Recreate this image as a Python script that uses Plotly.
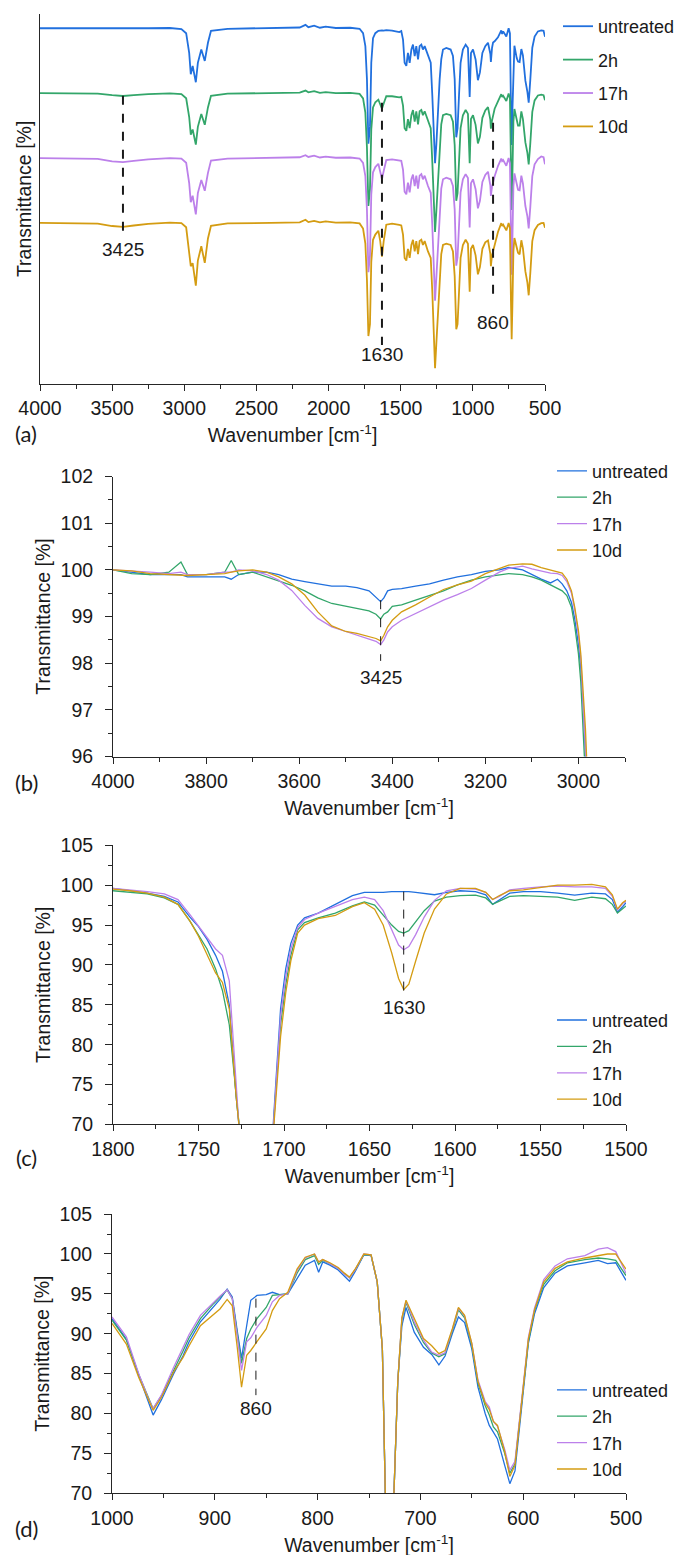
import plotly.graph_objects as go

W, H = 685, 1555
FONT = "Liberation Sans, Arial, sans-serif"
AXC = "#262626"
TXT = "#1a1a1a"

series_names = ["untreated", "2h", "17h", "10d"]
series_colors = ["#2170de", "#33a66a", "#bc80ea", "#d49c12"]

# ---------------- Panel (a): full spectra (transmittance %, stacked) ----------------
a_wn = [4000, 3700, 3600, 3500, 3425, 3350, 3250, 3100, 3020, 2987,
        2966, 2955, 2942, 2920, 2906, 2882, 2858, 2836, 2815, 2700,
        2400, 2200, 2160, 2140, 2100, 2060, 2020, 1950, 1850, 1785,
        1761, 1745, 1734, 1724, 1713, 1704, 1692, 1676, 1655, 1642,
        1630, 1618, 1600, 1560, 1510, 1496, 1484, 1473, 1461, 1450,
        1438, 1426, 1415, 1403, 1392, 1380, 1369, 1357, 1346, 1334,
        1311, 1292, 1281, 1272, 1262, 1253, 1242, 1230, 1219, 1207,
        1184, 1154, 1138, 1126, 1115, 1106, 1096, 1085, 1069, 1050,
        1034, 1022, 1013, 999, 981, 965, 951, 934, 914, 895,
        879, 875, 867, 860, 849, 826, 803, 797, 790, 768,
        752, 743, 736, 731, 726, 719, 712, 696, 687, 676,
        664, 653, 636, 622, 613, 602, 588, 572, 549, 526,
        510, 500]
a_untreated = [100.0, 99.9, 100.0, 99.9, 99.8, 99.9, 100.0, 100.1, 99.7, 98.1,
               90.5, 82.3, 85.5, 79.2, 86.7, 91.8, 87.4, 94.4, 99.0, 99.8,
               100.0, 100.3, 101.3, 100.4, 101.0, 100.2, 100.6, 100.1, 100.2, 99.8,
               98.1, 93.1, 80.4, 55.5, 62.0, 86.7, 96.2, 98.1, 99.0, 99.2,
               99.2, 99.1, 99.3, 99.1, 98.5, 98.9, 95.6, 86.7, 85.5, 90.5,
               86.7, 91.8, 93.7, 89.3, 93.1, 88.0, 93.1, 93.7, 91.8, 93.1,
               89.3, 86.7, 74.1, 57.7, 48.0, 55.2, 67.8, 80.4, 88.0, 91.8,
               92.4, 91.8, 89.3, 80.4, 58.0, 61.5, 74.1, 86.7, 91.8, 93.7,
               92.4, 73.5, 90.5, 91.8, 88.0, 80.0, 83.0, 90.5, 93.1, 94.4,
               90.2, 87.0, 92.5, 94.5, 95.0, 96.5, 99.2, 97.8, 98.8, 96.8,
               100.0, 98.0, 70.0, 55.0, 68.0, 88.0, 93.3, 88.5, 87.2, 87.0,
               92.0, 89.5, 79.8, 75.5, 71.3, 80.0, 92.5, 96.8, 98.8, 99.2,
               99.0, 96.7]
a_2h = [100.0, 99.9, 99.8, 99.2, 98.9, 99.2, 99.6, 99.9, 99.6, 98.0,
        90.8, 84.0, 86.0, 80.2, 87.0, 92.0, 87.8, 94.5, 99.0, 99.8,
        100.0, 100.2, 101.0, 100.3, 100.8, 100.1, 100.4, 100.0, 100.1, 99.7,
        98.0, 92.5, 79.0, 56.5, 63.0, 86.0, 94.5, 96.5, 97.5, 95.5,
        94.0, 96.0, 98.8, 98.8, 98.4, 98.6, 95.2, 86.5, 85.5, 90.0,
        86.5, 91.5, 93.5, 89.0, 93.0, 88.0, 93.0, 93.5, 91.5, 93.0,
        89.0, 86.5, 73.5, 56.5, 46.5, 54.5, 67.0, 80.0, 88.0, 91.5,
        92.0, 91.5, 89.0, 80.0, 58.5, 61.5, 74.0, 86.5, 91.5, 93.5,
        92.0, 73.0, 90.0, 91.5, 87.8, 80.6, 83.2, 90.5, 93.3, 94.6,
        89.8, 86.3, 89.5, 91.8, 94.0, 96.8, 99.6, 98.5, 99.0, 97.0,
        99.9, 98.0, 70.0, 55.0, 68.0, 89.0, 93.9, 89.2, 87.5, 87.5,
        93.0, 90.0, 81.0, 77.0, 72.5, 80.5, 92.8, 97.2, 99.1, 99.4,
        99.2, 97.3]
a_17h = [100.0, 99.9, 99.7, 98.7, 98.4, 98.9, 99.5, 100.0, 99.8, 98.2,
         90.3, 83.0, 85.5, 78.3, 86.5, 91.5, 87.4, 94.3, 99.0, 99.8,
         100.0, 100.3, 101.1, 100.4, 100.9, 100.2, 100.5, 100.1, 100.2, 99.8,
         98.1, 93.0, 80.0, 56.0, 62.5, 86.0, 94.5, 96.5, 97.8, 94.5,
         91.8, 95.0, 99.2, 99.5, 99.0, 98.9, 95.5, 87.0, 86.0, 90.5,
         86.8, 91.8, 93.6, 89.2, 93.2, 88.2, 93.2, 93.8, 91.8, 93.2,
         89.2, 86.6, 73.8, 56.5, 45.0, 54.0, 67.0, 80.2, 88.2, 91.8,
         92.4, 91.8, 89.2, 80.2, 58.5, 61.8, 74.2, 86.8, 91.8, 93.8,
         92.3, 73.2, 90.3, 91.8, 88.0, 80.6, 83.5, 90.8, 93.5, 94.7,
         89.5, 85.4, 89.0, 90.8, 93.0, 96.9, 99.8, 98.8, 99.2, 97.0,
         100.0, 98.0, 70.0, 55.0, 68.0, 89.0, 94.1, 89.5, 87.8, 87.6,
         93.2, 90.2, 81.5, 77.5, 72.9, 81.0, 93.0, 97.6, 99.6, 100.6,
         100.3, 97.6]
a_10d = [100.0, 99.9, 99.7, 98.8, 98.5, 99.0, 99.6, 100.1, 99.9, 98.3,
         89.5, 83.3, 84.5, 75.8, 85.5, 91.0, 84.6, 94.0, 98.9, 99.8,
         100.0, 100.2, 101.2, 100.3, 100.8, 100.2, 100.6, 100.1, 100.2, 99.8,
         97.8, 92.0, 78.0, 56.4, 61.0, 85.0, 93.5, 95.5, 97.0, 93.0,
         87.0, 93.0, 99.3, 99.7, 99.2, 99.0, 95.5, 86.5, 85.5, 90.0,
         86.5, 91.5, 93.5, 89.0, 93.0, 88.0, 93.0, 93.5, 91.5, 93.0,
         89.0, 86.5, 73.5, 56.0, 44.0, 53.5, 66.5, 80.0, 88.0, 91.5,
         92.0, 91.5, 89.0, 79.5, 59.0, 61.0, 74.0, 86.5, 91.5, 93.5,
         92.0, 73.5, 90.0, 91.5, 87.5, 80.2, 83.0, 90.0, 92.5, 93.2,
         88.1, 83.3, 87.5, 89.0, 91.5, 96.5, 99.9, 98.8, 99.3, 97.1,
         100.0, 98.0, 70.0, 55.2, 68.0, 89.0, 94.2, 90.0, 88.5, 87.9,
         93.3, 90.2, 81.3, 77.0, 72.1, 80.5, 93.0, 97.2, 99.2, 99.9,
         100.0, 98.1]
a_offsets = [75, 50, 25, 0]

# ---------------- Panel (b): 4000-2900 cm-1 ----------------
b_wn = [4000, 3960, 3920, 3880, 3854, 3840, 3800, 3760, 3746, 3730,
        3700, 3670, 3644, 3616, 3588, 3560, 3530, 3500, 3476, 3450,
        3435, 3425, 3418, 3410, 3400, 3380, 3350, 3320, 3290, 3260,
        3230, 3200, 3170, 3150, 3120, 3100, 3080, 3060, 3045, 3035,
        3025, 3015, 3008, 3000, 2995, 2990, 2985, 2980]
b_untreated = [100.0, 99.95, 99.9, 99.9, 99.9, 99.85, 99.85, 99.85, 99.8, 99.9,
               99.95, 99.95, 99.9, 99.8, 99.75, 99.7, 99.65, 99.65, 99.62, 99.55,
               99.4, 99.32, 99.4, 99.55, 99.58, 99.6, 99.65, 99.7, 99.78, 99.85,
               99.9, 99.97, 100.0, 100.05, 100.0, 99.9, 99.8, 99.72, 99.8, 99.7,
               99.55, 99.3, 98.95, 98.4, 97.9, 97.1, 96.0, 95.0]
b_2h = [100.0, 99.92, 99.9, 99.95, 100.17, 99.9, 99.9, 99.95, 100.2, 99.9,
        99.95, 99.85, 99.75, 99.67, 99.55, 99.4, 99.28, 99.22, 99.17, 99.12,
        99.05, 98.95, 99.05, 99.1, 99.22, 99.25, 99.35, 99.45, 99.55, 99.68,
        99.78, 99.85, 99.9, 99.92, 99.9, 99.85, 99.78, 99.68, 99.6, 99.55,
        99.45, 99.2, 98.8, 98.2, 97.6, 96.7, 95.5, 94.5]
b_17h = [100.0, 99.98, 99.95, 99.92, 99.95, 99.9, 99.9, 99.95, 99.95, 100.0,
         99.98, 99.9, 99.78, 99.56, 99.24, 98.96, 98.78, 98.68, 98.6, 98.52,
         98.47, 98.4, 98.5, 98.67, 98.78, 98.92, 99.06, 99.2, 99.35, 99.47,
         99.6, 99.78, 99.95, 100.03, 100.08, 100.02, 99.98, 99.93, 99.92, 99.88,
         99.75, 99.5, 99.15, 98.6, 98.1, 97.3, 96.4, 95.2]
b_10d = [100.0, 99.98, 99.92, 99.9, 99.9, 99.88, 99.9, 99.92, 99.95, 99.98,
         100.0, 99.95, 99.85, 99.7, 99.46, 99.1, 98.8, 98.68, 98.64, 98.58,
         98.53, 98.48, 98.6, 98.78, 98.92, 99.1, 99.25, 99.42, 99.58, 99.68,
         99.76, 99.92, 100.02, 100.1, 100.13, 100.12, 100.05, 99.99, 99.96, 99.93,
         99.8, 99.55, 99.2, 98.7, 98.2, 97.5, 96.6, 95.4]

# ---------------- Panel (c): 1800-1500 cm-1 ----------------
c_wn = [1800, 1790, 1780, 1770, 1762, 1755, 1750, 1745, 1740, 1736,
        1732, 1728, 1724, 1718, 1712, 1708, 1705, 1702, 1699, 1696,
        1692, 1688, 1680, 1670, 1660, 1653, 1647, 1642, 1637, 1633,
        1630, 1627, 1623, 1618, 1612, 1605, 1597, 1588, 1582, 1578,
        1574, 1568, 1560, 1550, 1540, 1530, 1520, 1512, 1508, 1505,
        1502, 1500]
c_untreated = [99.6, 99.3, 99.0, 98.6, 97.9, 96.0, 94.8, 93.2, 91.2, 89.2,
               85.0, 73.5, 62.0, 52.0, 56.0, 64.0, 74.5, 84.5, 89.5, 92.7,
               95.0, 95.9, 96.5, 97.6, 98.7, 99.1, 99.1, 99.1, 99.2, 99.2,
               99.2, 99.2, 99.1, 99.0, 98.8, 99.1, 99.3, 99.2, 98.8, 97.6,
               98.2, 99.0, 99.2, 99.2, 99.0, 98.75, 99.0, 98.9, 98.2, 96.6,
               97.3, 97.8]
c_2h = [99.3, 99.1, 98.9, 98.4, 97.6, 95.5, 93.8, 92.0, 89.5, 86.8,
        82.5, 72.3, 61.0, 52.0, 56.0, 64.0, 73.5, 82.5, 87.5, 91.2,
        94.4, 95.3, 95.9, 96.5, 97.4, 97.9, 97.5, 96.3, 95.0, 94.2,
        94.0, 94.3, 95.4, 96.8, 98.0, 98.5, 98.7, 98.75, 98.4, 97.6,
        98.0, 98.6, 98.7, 98.6, 98.5, 98.1, 98.5, 98.3, 97.6, 96.5,
        97.0, 97.4]
c_17h = [99.6, 99.4, 99.2, 98.9, 98.2, 96.3, 94.9, 93.5, 92.0, 91.2,
         88.0, 75.2, 62.0, 52.0, 56.0, 64.0, 74.0, 83.5, 88.5, 92.0,
         94.7, 95.7, 96.5, 97.4, 98.2, 98.5, 98.2, 96.8, 94.3, 92.5,
         91.9, 92.3, 93.8, 96.0, 98.1, 99.3, 99.6, 99.5, 99.1, 98.2,
         98.6, 99.4, 99.6, 99.8, 99.9, 99.8, 99.8, 99.6, 98.6, 96.9,
         97.7, 98.0]
c_10d = [99.5, 99.3, 99.0, 98.5, 97.6, 95.5, 93.6, 91.2, 89.0, 87.8,
         84.5, 73.5, 63.0, 52.0, 56.0, 64.0, 72.5, 81.0, 86.5, 90.5,
         94.0, 95.0, 95.8, 96.2, 97.3, 97.8, 97.0, 95.0, 91.5, 88.3,
         86.9, 87.6, 90.5, 94.0, 97.0, 98.9, 99.6, 99.6, 99.1, 98.2,
         98.7, 99.3, 99.4, 99.7, 100.0, 100.0, 100.1, 99.8, 98.8, 97.0,
         97.8, 98.1]

# ---------------- Panel (d): 1000-500 cm-1 ----------------
d_wn = [1000, 986, 974, 965, 960, 952, 940, 931, 925, 914,
        901, 895, 888, 883, 878, 874, 869, 865, 859, 850,
        844, 837, 829, 820, 812, 803, 799, 795, 788, 780,
        774, 769, 763, 755, 748, 742, 737, 734, 730, 726,
        722, 718, 714, 706, 697, 689, 682, 676, 669, 663,
        657, 650, 644, 637, 633, 629, 625, 618, 613, 608,
        601, 595, 589, 580, 569, 557, 540, 527, 518, 510,
        500]
d_untreated = [91.9, 89.3, 84.8, 81.7, 79.8, 81.7, 85.0, 87.2, 89.0, 91.5,
               93.5, 94.3, 95.6, 94.6, 90.2, 86.9, 91.0, 94.2, 94.8, 94.9,
               95.2, 94.9, 95.0, 96.9, 98.6, 99.2, 97.7, 99.0, 98.6, 98.0,
               97.2, 96.6, 97.9, 99.9, 99.8, 96.5, 88.1, 69.0, 50.0, 69.0,
               84.0, 91.0, 93.3, 90.2, 88.3, 87.4, 86.1, 87.2, 90.0, 92.1,
               91.4, 88.1, 83.3, 80.0, 78.5, 77.6, 76.8, 73.5, 71.2, 72.8,
               81.5, 88.8, 92.5, 95.8, 97.6, 98.5, 98.9, 99.2, 98.8, 98.9,
               96.7]
d_2h = [91.7, 89.2, 84.9, 82.0, 80.6, 82.2, 85.3, 87.8, 89.5, 91.9,
        93.8, 94.6, 95.5, 94.4, 89.8, 86.3, 89.4, 90.6, 91.9, 93.3,
        94.8, 94.9, 95.0, 97.6, 99.3, 99.8, 98.7, 99.2, 98.8, 98.2,
        97.5, 97.0, 98.1, 99.9, 99.9, 96.5, 88.1, 69.0, 50.0, 69.0,
        84.0, 91.8, 93.9, 91.2, 88.9, 87.6, 87.1, 87.5, 90.3, 93.0,
        92.0, 88.5, 83.8, 81.0, 79.8, 78.3, 77.7, 75.0, 72.5, 73.7,
        82.0, 89.0, 92.9, 96.2, 97.9, 98.9, 99.3, 99.5, 99.4, 99.2,
        97.3]
d_17h = [92.1, 89.6, 85.0, 82.0, 80.6, 82.3, 85.8, 88.3, 89.9, 92.3,
         94.0, 94.7, 95.5, 94.4, 89.5, 85.4, 89.0, 89.5, 90.8, 92.3,
         94.0, 94.8, 95.0, 97.9, 99.5, 100.0, 99.0, 99.3, 98.8, 98.2,
         97.5, 97.0, 98.1, 100.0, 99.9, 96.5, 88.1, 69.0, 50.0, 69.0,
         84.0, 92.0, 94.1, 91.5, 89.2, 87.7, 87.3, 87.6, 90.5, 93.2,
         92.2, 88.8, 84.2, 81.5, 80.8, 79.0, 78.4, 75.5, 72.9, 74.0,
         82.3, 89.5, 93.2, 96.8, 98.5, 99.4, 99.8, 100.6, 100.8, 100.3,
         97.6]
d_10d = [91.3, 88.7, 84.5, 81.8, 80.4, 82.0, 85.2, 87.0, 88.5, 91.0,
         92.5, 93.1, 94.3, 93.5, 88.1, 83.3, 87.3, 87.9, 89.0, 90.6,
         92.9, 94.4, 95.2, 98.1, 99.6, 100.0, 99.0, 99.3, 98.9, 98.3,
         97.6, 97.1, 98.2, 100.0, 99.9, 96.5, 88.1, 69.0, 50.0, 69.0,
         84.0, 92.0, 94.2, 91.9, 89.4, 88.5, 87.5, 87.9, 90.6, 93.3,
         92.3, 88.8, 84.0, 81.3, 80.5, 79.0, 78.5, 75.2, 72.1, 73.5,
         82.0, 89.3, 93.0, 96.5, 98.2, 99.0, 99.5, 99.8, 100.0, 100.0,
         98.1]

# Marked band positions
mark_b, mark_c, mark_d = 3425, 1630, 860

for wn, ss in [(a_wn, [a_untreated, a_2h, a_17h, a_10d]),
               (b_wn, [b_untreated, b_2h, b_17h, b_10d]),
               (c_wn, [c_untreated, c_2h, c_17h, c_10d]),
               (d_wn, [d_untreated, d_2h, d_17h, d_10d])]:
    for s in ss:
        assert len(s) == len(wn), (len(s), len(wn))


def px(x):
    return x / W


def py(y):
    return 1 - y / H


fig = go.Figure()

panels = [
    ("x", "y", "legend", a_wn, [a_untreated, a_2h, a_17h, a_10d], a_offsets, 1.8),
    ("x2", "y2", "legend2", b_wn, [b_untreated, b_2h, b_17h, b_10d], [0, 0, 0, 0], 1.3),
    ("x3", "y3", "legend3", c_wn, [c_untreated, c_2h, c_17h, c_10d], [0, 0, 0, 0], 1.3),
    ("x4", "y4", "legend4", d_wn, [d_untreated, d_2h, d_17h, d_10d], [0, 0, 0, 0], 1.3),
]
for pi, (xa, ya, lg, wn, ss, offs, lw) in enumerate(panels):
    for i, (s, off) in enumerate(zip(ss, offs)):
        fig.add_trace(go.Scatter(
            x=wn, y=[v + off for v in s], mode="lines",
            name=series_names[i],
            line=dict(color=series_colors[i], width=lw),
            xaxis=xa, yaxis=ya, legend=lg,
            legendgroup=f"p{pi}s{i}",
        ))

tickfont = dict(family=FONT, size=19.5, color=TXT)
titlefont = dict(family=FONT, size=19.5, color=TXT)


def xaxis_cfg(dom, rng, dtick, minor, anchor):
    return dict(domain=dom, range=rng, anchor=anchor, dtick=dtick, tick0=0,
                showline=True, linecolor=AXC, linewidth=1, mirror=False,
                ticks="outside", ticklen=6, tickwidth=1, tickcolor=AXC,
                minor=dict(ticks="outside", ticklen=4, dtick=minor, tickcolor=AXC, showgrid=False),
                showgrid=False, zeroline=False, tickfont=tickfont,
                ticklabelstandoff=1, automargin=False,
                title=dict(text="Wavenumber [cm<sup>-1</sup>]", font=titlefont, standoff=10))


def yaxis_cfg(dom, rng, dtick, minor, anchor):
    return dict(domain=dom, range=rng, anchor=anchor, dtick=dtick, tick0=0,
                showline=True, linecolor=AXC, linewidth=1, mirror=False,
                ticks="outside", ticklen=7, tickwidth=1, tickcolor=AXC,
                minor=dict(ticks="outside", ticklen=4, dtick=minor, tickcolor=AXC, showgrid=False),
                showgrid=False, zeroline=False, tickfont=tickfont,
                ticklabelstandoff=8, automargin=False,
                title=dict(text="Transmittance [%]", font=titlefont, standoff=4))


layout = dict(
    width=W, height=H, margin=dict(l=0, r=0, t=0, b=0),
    paper_bgcolor="white", plot_bgcolor="white",
    font=dict(family=FONT, size=19, color=TXT),
    showlegend=True,
    xaxis=xaxis_cfg([px(32), px(537)], [4000, 500], 500, 250, "y"),
    yaxis=dict(domain=[py(372), py(1)], range=[38, 180.5], anchor="x",
               showline=True, linecolor=AXC, linewidth=1, ticks="",
               showticklabels=False, showgrid=False, zeroline=False, automargin=False,
               title=dict(text="Transmittance [%]", font=titlefont, standoff=2)),
    xaxis2=xaxis_cfg([px(105), px(617)], [4000, 2900], 200, 100, "y2"),
    yaxis2=yaxis_cfg([py(746), py(465)], [96, 102], 1, 0.5, "x2"),
    xaxis3=xaxis_cfg([px(105), px(618)], [1800, 1500], 50, 25, "y3"),
    yaxis3=yaxis_cfg([py(1115), py(835)], [70, 105], 5, 2.5, "x3"),
    xaxis4=xaxis_cfg([px(104), px(618)], [1000, 500], 100, 50, "y4"),
    yaxis4=yaxis_cfg([py(1485), py(1205)], [70, 105], 5, 2.5, "x4"),
)

leg_common = dict(xanchor="left", yanchor="top", bgcolor="rgba(0,0,0,0)",
                  borderwidth=0, font=dict(family=FONT, size=18, color=TXT),
                  itemclick=False, itemdoubleclick=False)
layout["legend"] = dict(x=px(550), y=py(-5), tracegroupgap=7, **leg_common)
layout["legend2"] = dict(x=px(544), y=py(441), tracegroupgap=0, **leg_common)
layout["legend3"] = dict(x=px(544), y=py(992), tracegroupgap=0, **leg_common)
layout["legend4"] = dict(x=px(544), y=py(1363), tracegroupgap=0, **leg_common)

fig.update_layout(**layout)

# dashed marker lines + band labels in panel (a)
dash_a = [(3425, 149.0, 93.7, 89.9), (1630, 146.3, 53.0, 49.1), (860, 138.6, 69.5, 61.8)]
for wnm, y0, y1, ylab in dash_a:
    fig.add_shape(type="line", xref="x", yref="y", x0=wnm, x1=wnm, y0=y0, y1=y1,
                  line=dict(color="#1a1a1a", width=2, dash="dash"))
    fig.add_annotation(xref="x", yref="y", x=wnm, y=ylab, text=str(wnm), showarrow=False,
                       font=dict(family=FONT, size=19, color=TXT), xanchor="center", yanchor="middle")

for xr, yr, wnm, y0, y1, ylab in [("x2", "y2", mark_b, 99.35, 98.05, 97.7),
                                   ("x3", "y3", mark_c, 99.2, 86.7, 84.7),
                                   ("x4", "y4", mark_d, 94.4, 82.3, 80.6)]:
    fig.add_shape(type="line", xref=xr, yref=yr, x0=wnm, x1=wnm, y0=y0, y1=y1,
                  line=dict(color="#1a1a1a", width=1, dash="dash"))
    fig.add_annotation(xref=xr, yref=yr, x=wnm, y=ylab, text=str(wnm), showarrow=False,
                       font=dict(family=FONT, size=19, color=TXT), xanchor="center", yanchor="middle")

# panel letters
for lab, ycen in [("(a)", 422), ("(b)", 772), ("(c)", 1148), ("(d)", 1520)]:
    fig.add_annotation(xref="paper", yref="paper", x=px(18), y=py(ycen), text=lab,
                       showarrow=False, xanchor="center", yanchor="middle",
                       font=dict(family="Lato, Noto Sans, sans-serif", size=22, color=TXT))

fig.write_html("out.html")
